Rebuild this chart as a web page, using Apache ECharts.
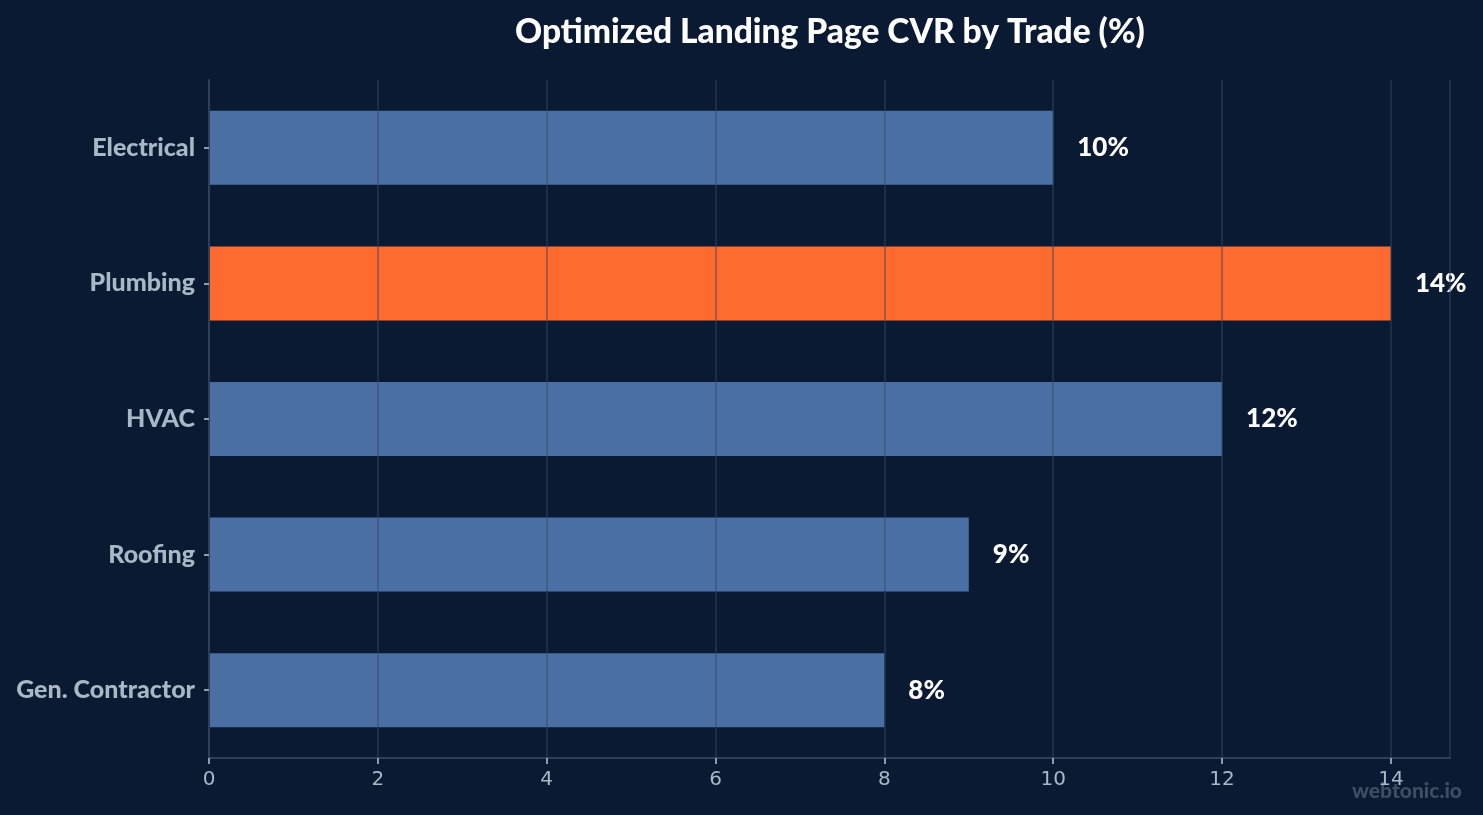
<!DOCTYPE html>
<html lang="en">
<head>
    <meta charset="UTF-8">
    <title>CVR by Trade</title>
    <script src="https://cdn.jsdelivr.net/npm/echarts/dist/echarts.min.js"></script>
    <style>
        html, body { margin: 0; padding: 0; background: #0b1a33; }
        #chart1 { width: 1483px; height: 815px; }
    </style>
</head>
<body>
<div id="chart1"></div>
</body>
<script type="text/javascript">
    var trades = ['Electrical', 'Plumbing', 'HVAC', 'Roofing', 'Gen. Contractor'];
    var cvr = [10, 14, 12, 9, 8];
    var highlight = 'Plumbing';

    var chart1 = echarts.init(document.getElementById('chart1'));

    var option = {
        backgroundColor: '#0b1a33',
        title: {
            text: 'Optimized Landing Page CVR by Trade (%)',
            left: 825,
            textAlign: 'center',
            top: 10,
            textStyle: {
                color: '#ffffff',
                fontFamily: 'Lato',
                fontWeight: 900,
                fontSize: 33.5
            }
        },
        grid: {
            left: 209,
            right: 33,
            top: 80,
            bottom: 57
        },
        xAxis: {
            type: 'value',
            min: 0,
            max: 14.7,
            interval: 2,
            z: 3,
            axisLine: { show: true, lineStyle: { color: '#2f3f58', width: 2 } },
            axisTick: { show: true, length: 6, lineStyle: { color: '#8e9cad', width: 2 } },
            axisLabel: {
                color: '#a9b8c6',
                fontFamily: 'DejaVu Sans',
                fontSize: 20,
                margin: 12,
                showMaxLabel: false
            },
            splitLine: { show: true, lineStyle: { color: 'rgba(48,70,100,0.45)', width: 2 } }
        },
        yAxis: {
            type: 'category',
            data: trades,
            inverse: true,
            z: 3,
            axisLine: { show: true, lineStyle: { color: '#2f3f58', width: 2 } },
            axisTick: { show: true, alignWithLabel: true, length: 5, lineStyle: { color: '#8e9cad', width: 2 } },
            axisLabel: {
                color: '#a9b8c6',
                fontFamily: 'Lato',
                fontWeight: 900,
                fontSize: 25,
                margin: 14
            }
        },
        series: [{
            type: 'bar',
            data: cvr.map(function (v, i) {
                return {
                    value: v,
                    itemStyle: { color: trades[i] === highlight ? '#ff6b2e' : '#4a6fa5' }
                };
            }),
            barWidth: 74,
            label: {
                show: true,
                position: 'right',
                distance: 24,
                formatter: '{c}%',
                color: '#ffffff',
                fontFamily: 'Lato',
                fontWeight: 900,
                fontSize: 26
            }
        }],
        graphic: [{
            type: 'text',
            right: 21,
            bottom: 13,
            style: {
                text: 'webtonic.io',
                fill: '#3d4d63',
                font: '900 21px Lato'
            }
        }]
    };
    chart1.setOption(option);
</script>
</html>
